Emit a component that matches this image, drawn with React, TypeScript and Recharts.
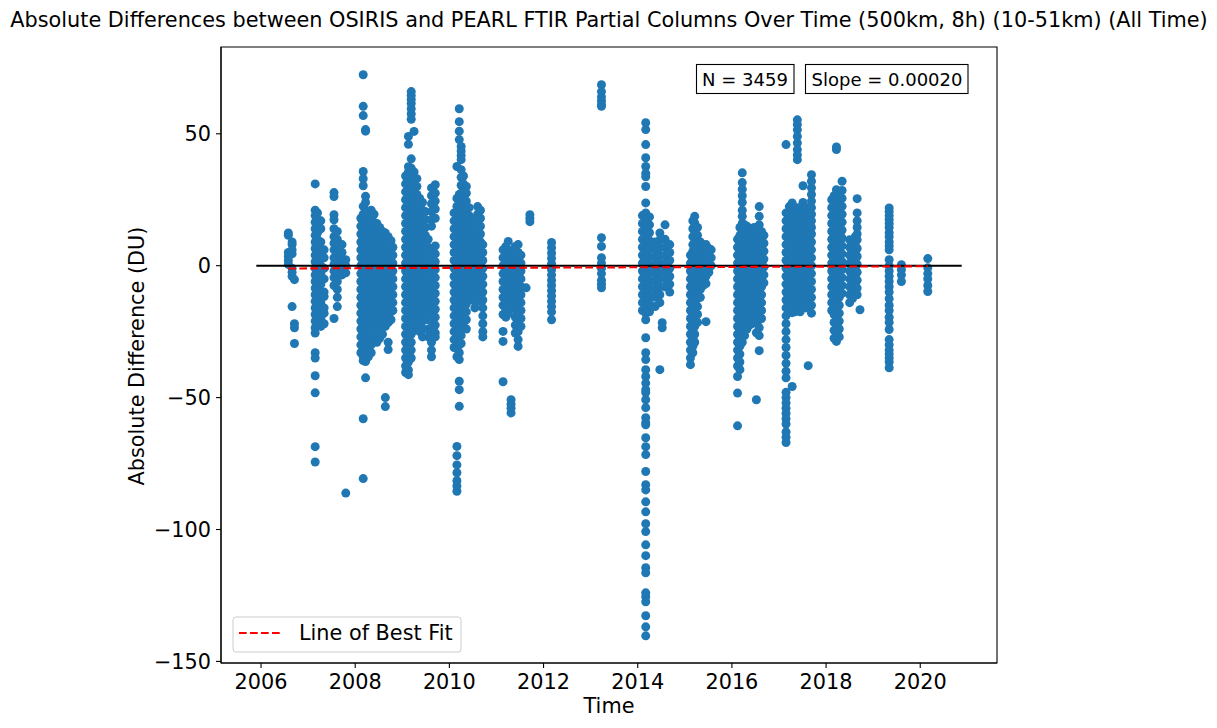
import React from 'react';
import { ScatterChart, Scatter, XAxis, YAxis, ReferenceArea } from 'recharts';

type Col = [number, number[]];

const g2006: Col[] = [
  [2006.58, [12.4, 11.5, 5, 3.5, 2, 0.5]],
  [2006.66, [9, 8, 6, 4.5, -1, -2.5, -4, -15.5]],
  [2006.71, [-5.3, -22, -23.5, -29.5]],
];
const g2007: Col[] = [
  [2007.15, [31, 21, 19, 16.5, 14, 11.5, 9, 6.5, 4, 1.5, -1, -3.5, -6, -8.5, -11, -13.5, -16, -18.5, -21, -23.5, -25.5, -33, -35, -41.7, -48.2, -68.6, -74.4]],
  [2007.2, [20, 17.5, 15, 12.5, 10, 7.5, 5, 2.5, 0, -2.5, -5, -7.5, -10, -12.5, -15, -17.5, -20, -22.5]],
  [2007.27, [17, 14, 9, 6, 3, 0, -3, -7, -10, -14, -18, -20, -23]],
  [2007.34, [6, 3, -1, -5, -10, -11.7, -16, -18, -22]],
  [2007.55, [27.7, 26.2, 19.3, 17.4, 14, 11, 8.5, 6, 3, 0.5, -2, -4.5, -7.5, -20]],
  [2007.62, [13, 10, 7.5, 5, 2.5, 0, -3, -6, -9, -12, -15.5]],
  [2007.72, [8, 5, 2, -1, -3.5]],
  [2007.8, [2.3, 0, -2.7, -86.2]],
];
const g2008: Col[] = [
  [2008.12, [18, 15, 12, 9, 6, 3, 0, -3, -6, -9, -12, -15, -18, -21, -24, -27, -30, -33]],
  [2008.17, [72.4, 60.4, 56.9, 35.7, 33, 30.3, 22.5, 19.5, 16.5, 13.5, 10.5, 7.5, 4.5, 1.5, -1.5, -4.5, -7.5, -10.5, -13.5, -16.5, -19.5, -22.5, -25.5, -28.5, -31.5, -34.5, -36, -58, -80.7]],
  [2008.22, [51.6, 51, 26.3, 24, 21, 18, 15, 12, 9, 6, 3, 0, -3, -6, -9, -12, -15, -18, -21, -24, -27, -30, -33, -36.3, -42.5]],
  [2008.28, [19.5, 16.5, 13.5, 10.5, 7.5, 4.5, 1.5, -1.5, -4.5, -7.5, -10.5, -13.5, -16.5, -19.5, -22.5, -25.5, -28.5, -31.5, -34.5]],
  [2008.34, [21, 18, 15, 12, 9, 6, 3, 0, -3, -6, -9, -12, -15, -18, -21, -24, -27, -30, -33]],
  [2008.4, [19.5, 16.5, 13.5, 10.5, 7.5, 4.5, 1.5, -1.5, -4.5, -7.5, -10.5, -13.5, -16.5, -19.5, -22.5, -25.5, -28.5]],
  [2008.46, [16, 13, 10, 7, 4, 1, -2, -5, -8, -11, -14, -17, -20, -23, -26, -29]],
  [2008.52, [14.5, 11.5, 8.5, 5.5, 2.5, -0.5, -3.5, -6.5, -9.5, -12.5, -15.5, -18.5, -21.5, -24.5, -27.5]],
  [2008.58, [13, 10, 7, 4, 1, -2, -5, -8, -11, -14, -17, -20, -23, -26]],
  [2008.64, [12.4, 9.5, 6.5, 3.5, 0.5, -2.5, -5.5, -8.5, -11.5, -14.5, -17.5, -20.5, -23, -50, -53.4]],
  [2008.7, [11, 8, 5, 2, -1, -4, -7, -10, -13, -16, -19, -21.6, -29, -31.8]],
  [2008.76, [9.5, 6.5, 3.5, 0.5, -2.5, -5.5, -8.5, -11.5, -14.5, -17.5, -20.5]],
  [2008.8, [7, 4, 1, -2, -5, -8, -11, -14, -17]],
];
const g2009: Col[] = [
  [2009.07, [34, 31, 28, 25, 22, 19, 16, 13, 10, 7, 4, 1, -2, -5, -8, -11, -14, -17, -20, -23, -26, -29, -32, -35, -38, -40.5]],
  [2009.13, [49, 46, 37.5, 35.5, 32.5, 29.5, 26.5, 23.5, 20.5, 17.5, 14.5, 11.5, 8.5, 5.5, 2.5, -0.5, -3.5, -6.5, -9.5, -12.5, -15.5, -18.5, -21.5, -24.5, -27.5, -30.5, -33.5, -36.5, -39.5, -41.3]],
  [2009.19, [66, 64.5, 63, 61.5, 59.5, 57.5, 55.5, 40.5, 37, 34, 31, 28, 25, 22, 19, 16, 13, 10, 7, 4, 1, -2, -5, -8, -11, -14, -17, -20, -23, -26, -29, -32, -35]],
  [2009.25, [50.9, 35.5, 32.5, 29.5, 26.5, 23.5, 20.5, 17.5, 14.5, 11.5, 8.5, 5.5, 2.5, -0.5, -3.5, -6.5, -9.5, -12.5, -15.5, -18.5, -21.5, -24.5]],
  [2009.31, [33, 30, 27, 24, 21, 18, 15, 12, 9, 6, 3, 0, -3, -6, -9, -12, -15, -18]],
  [2009.37, [25.5, 22.5, 19.5, 16.5, 13.5, 10.5, 7.5, 4.5, 1.5, -1.5, -4.5, -7.5, -10.5, -13.5, -16.5, -19.5, -22.5, -25]],
  [2009.43, [24, 21, 18, 15, 12, 9, 6, 3, 0, -3, -6, -9, -12, -15, -18, -21, -24, -27]],
  [2009.49, [20.5, 17.5, 14.5, 11.5, 8.5, 5.5, 2.5, -0.5, -3.5, -6.5, -9.5, -12.5, -15.5, -18]],
  [2009.55, [10, 7, 4, 1, -2, -5, -8, -11, -14, -17, -20.5, -24, -27]],
  [2009.62, [29.5, 26.5, 23.5, 20.5, 17.5, 15, 6, 3, 0, -3, -6, -9, -12, -15, -18, -21, -24, -27, -29, -32, -34.5]],
  [2009.7, [30.7, 27.5, 24.5, 21.5, 18, 7.5, 4.5, 1.5, -1.5, -4.5, -7.5, -10.5, -13.5, -16.5, -19.5, -22.5, -25.5, -27]],
];
const g2010: Col[] = [
  [2010.1, [20, 17, 14, 11, 8, 5, 2, -1, -4, -7, -10, -13, -16, -19, -22, -25, -28, -31]],
  [2010.16, [37.6, 25.5, 22.5, 19.5, 16.5, 13.5, 10.5, 7.5, 4.5, 1.5, -1.5, -4.5, -7.5, -10.5, -13.5, -16.5, -19.5, -22.5, -25.5, -28.5, -31.5, -34.5, -68.5, -72, -75.5, -78.5, -81.5, -83.5, -85.5]],
  [2010.21, [59.5, 54.6, 51, 47.8, 27, 24, 21, 18, 15, 12, 9, 6, 3, 0, -3, -6, -9, -12, -15, -18, -21, -24, -27, -30, -33, -35.6, -43.8, -47, -53.3]],
  [2010.25, [45.2, 43.5, 41.8, 40.2, 36.4, 33.5, 30.5, 27.5, 24.5, 21.5, 18.5, 15.5, 12.5, 9.5, 6.5, 3.5, 0.5, -2.5, -5.5, -8.5, -11.5, -14.5, -17.5, -20.5, -23.5, -26.5, -29.5]],
  [2010.3, [34, 31, 28, 25, 22, 19, 16, 13, 10, 7, 4, 1, -2, -5, -8, -11, -14, -17, -20, -23]],
  [2010.36, [30, 27.5, 24.5, 21.5, 18.5, 15.5, 12.5, 9.5, 6.5, 3.5, 0.5, -2.5, -5.5, -8.5, -11.5, -14.5, -17.5, -20.5, -24]],
  [2010.42, [22, 19, 16, 13, 10, 7, 4, 1, -2, -5, -8, -11, -12.9]],
  [2010.48, [17.5, 14.5, 11.5, 8.5, 5.5, 2.5, -0.5, -3.5, -6.5, -9.5, -12.5]],
  [2010.54, [16, 13, 10, 7, 4, 1, -2, -5, -8, -11, -13.6, -16]],
  [2010.6, [22.4, 19.5, 16.5, 13.5, 10.5, 7.5, 4.5, 1.5, -1.5, -4.5, -7.5, -10.5, -13.5]],
  [2010.66, [21, 18, 15, 12, 9, 6, 3, 0, -3, -6, -9]],
  [2010.71, [8, 5, 2, -1, -4, -7, -10, -13, -16, -19, -22, -25, -27]],
];
const g2011: Col[] = [
  [2011.14, [6, 3, 0, -3, -6, -9, -12, -15, -18.5, -24.9, -28.7, -44]],
  [2011.2, [7.3, 4.5, 1.5, -1.5, -4.5, -7.5, -10.5, -13.5, -16.5, -19.5]],
  [2011.25, [9.2, 6, 3, 0, -3, -6, -9, -12, -15, -18]],
  [2011.31, [5, 2, -1, -4, -7, -10, -13, -16, -50.8, -52.5, -54, -55.8]],
  [2011.4, [7.3, 4.5, 1.5, -1.5, -4.5, -7.5, -10.5, -13.5, -16.5, -19.5, -22.5, -25.5]],
  [2011.46, [8, 5, 2, -1, -4, -7, -10, -13, -16, -19, -22, -25, -28, -30.6]],
  [2011.52, [4, 1, -2, -5, -8, -11, -14, -17, -20, -23]],
  [2011.63, [-8.4]],
  [2011.71, [19.3, 18, 16.7]],
];
const g2012: Col[] = [
  [2012.17, [8.8, 6.8, 4.8, 2.8, 0.8, -0.3, -1.5, -3.5, -5.5, -7.5, -9.5, -11.5, -13.5, -15.5, -17.5, -20.5]],
];
const g2013: Col[] = [
  [2013.23, [68.6, 66, 64, 62.5, 61, 60.4, 10.6, 7.3, 3, 1, -1, -3, -5.5, -7, -8.4]],
];
const g2014: Col[] = [
  [2014.1, [19, 16, 13, 10, 7, 4, 1, -2, -5, -8, -11, -14, -17]],
  [2014.17, [54.2, 51.6, 45.9, 40.9, 37.6, 35, 33.7, 30, 23.8, 20, 17, 14, 11, 8, 5, 2.3, -0.5, -3, -6, -9, -12, -15, -18, -20.5, -27.3, -33, -35.6, -39.4, -42, -44.5, -47, -48.1, -50.8, -53.8, -57.6, -59.5, -60.3, -65.2, -68.6, -71.6, -78, -83, -85, -89.5, -93.3, -97.8, -100.8, -105.8, -109.9, -114.5, -116.4, -124, -125.5, -127.4, -132.7, -136.9, -140.3]],
  [2014.25, [18.5, 15.5, 12.5, 9.5, 6.5, 3.5, 0.5, -2.5, -5.5, -8.5, -11.5, -14.5, -17.5]],
  [2014.37, [9, 6, 3, 0, -3, -6, -9, -12, -15.5]],
  [2014.47, [12.4, 9.8, 7, 4, 1, -2, -5, -8, -11, -14, -39.4]],
  [2014.52, [-21.6, -23.5]],
  [2014.58, [15.5, 10, 7, 4, 1, -2, -5, -8]],
  [2014.68, [8, 5, 2, -1, -4, -7, -10]],
];
const g2015: Col[] = [
  [2015.12, [4, 1, -2, -5, -8, -11, -14, -17, -20, -23, -26, -29, -32, -35, -37.5]],
  [2015.17, [17, 14, 11, 8, 5.5, 2.5, -0.5, -3.5, -6.5, -9.5, -12.5, -15.5, -18.5, -21.5, -24.5, -27.5, -30.5, -33]],
  [2015.21, [18.7, 16.2, 13, 10, 7, 4, 1, -2, -5, -8, -11, -14, -17, -20, -23, -26, -29]],
  [2015.27, [14.5, 11.5, 8.5, 5.5, 2.5, -0.5, -3.5, -6.5, -9.5, -12.5, -15.5, -18.5, -21.5]],
  [2015.33, [9, 6, 3, 0, -3, -6, -9, -12]],
  [2015.39, [7.5, 4.5, 1.5, -1.5, -4.5, -7.5]],
  [2015.45, [8, 5, 2, -1, -4, -6.8, -21.2]],
  [2015.51, [6.5, 3.5, 0.5, -2.5]],
  [2015.56, [6, 3, 0]],
];
const g2016: Col[] = [
  [2016.12, [10, 7, 4, 1, -2, -5, -8, -11, -14, -17, -20, -23, -26, -29, -32, -35, -38, -42, -48.3, -60.7]],
  [2016.17, [14.5, 11.5, 8.5, 5.5, 2.5, -0.5, -3.5, -6.5, -9.5, -12.5, -15.5, -18.5, -21.5, -24.5, -27.5, -30.5, -33.5, -36.5, -39.4]],
  [2016.22, [35.2, 31.5, 29, 26.5, 24, 21, 18.7, 16, 13, 10, 7, 4, 1, -2, -5, -8, -11, -14, -17, -20, -23, -26, -29]],
  [2016.27, [15.5, 12.5, 9.5, 6.5, 3.5, 0.5, -2.5, -5.5, -8.5, -11.5, -14.5, -17.5, -20.5, -23.5, -26.5]],
  [2016.32, [15, 12, 9, 6, 3, 0, -3, -6, -9, -12, -15, -18, -21, -24]],
  [2016.37, [13.5, 10.5, 7.5, 4.5, 1.5, -1.5, -4.5, -7.5, -10.5, -13.5, -16.5, -19.5, -22.5]],
  [2016.42, [14, 11, 8, 5, 2, -1, -4, -7, -10, -13, -16, -19, -22]],
  [2016.47, [14.5, 11.5, 8.5, 5.5, 2.5, -0.5, -3.5, -6.5, -9.5, -12.5, -15.5, -18.5, -21.5]],
  [2016.52, [12, 9, 6, 3, 0, -3, -6, -9, -12, -15, -18, -21, -25.4, -50.8]],
  [2016.58, [22.4, 18.7, 15.5, 12.5, 9.5, 6.5, 3.5, 0.5, -2.5, -5.5, -8.5, -11.5, -14.5, -17.5, -20.5, -23.5, -26.5, -32.2]],
  [2016.63, [13, 10, 7, 4, 1, -2, -5, -8, -11, -14, -17, -20]],
  [2016.68, [11.5, 8.5, 5.5, 2.5, -0.5, -3.5, -6.5]],
];
const g2017: Col[] = [
  [2017.15, [45.9, 20, 17, 14, 11, 8, 5, 2, -1, -4, -7, -10, -13, -16, -19, -22, -25, -28, -31, -34, -37, -40, -42.5, -48, -50, -52, -54, -56, -58, -60, -63, -65, -67]],
  [2017.22, [22.4, 19.5, 16.5, 13.5, 10.5, 7.5, 4.5, 1.5, -1.5, -4.5, -7.5, -10.5, -13.5]],
  [2017.28, [23.8, 21, 18, 15, 12, 9, 6, 3, 0, -3, -6, -9, -12, -15, -17.8, -45.8]],
  [2017.34, [21.5, 18.5, 15.5, 12.5, 9.5, 6.5, 3.5, 0.5, -2.5, -5.5, -8.5, -11.5, -14.5, -17.5]],
  [2017.39, [55.3, 53.5, 51.5, 49, 46.5, 44, 42, 40.2, 22, 19, 16, 13, 10, 7, 4, 1, -2, -5, -8, -11, -14, -17]],
  [2017.45, [21.5, 18.5, 15.5, 12.5, 9.5, 6.5, 3.5, 0.5, -2.5, -5.5, -8.5, -11.5, -14.5, -17.5]],
  [2017.51, [30.3, 24, 21, 18, 15, 12, 9, 6, 3, 0, -3, -6, -9, -12, -15]],
  [2017.57, [21.5, 18.5, 15.5, 12.5, 9.5, 6.5, 3.5, 0.5, -2.5, -5.5, -8.5, -11.5, -14.5, -16]],
  [2017.62, [22, 19, 16, 13, 10, 7, 4, 1, -2, -5, -8, -11, -14, -37.9]],
  [2017.69, [34.5, 32, 29.5, 27, 24.5, 22, 19.5, 17, 14.5, 12, 9, 6, 3, 0, -3, -6, -9, -12, -15, -18]],
];
const g2018: Col[] = [
  [2018.12, [25, 22, 19, 16, 13, 10, 7, 4, 1, -2, -5, -8, -11, -14, -17]],
  [2018.17, [26.5, 23.5, 20.5, 17.5, 14.5, 11.5, 8.5, 5.5, 2.5, -0.5, -3.5, -6.5, -9.5, -12.5, -15.5, -18.5, -21.5, -24.5, -27.5]],
  [2018.22, [44, 45, 28.8, 25.5, 22.5, 19.5, 16.5, 13.5, 10.5, 7.5, 4.5, 1.5, -1.5, -4.5, -7.5, -10.5, -13.5, -16.5, -19.5, -22.5, -25.5, -28.7]],
  [2018.28, [27, 24, 21, 18, 15, 12, 9, 6, 3, 0, -3, -6, -9, -12, -15, -18, -21, -24, -27]],
  [2018.34, [32, 28.5, 25.5, 22.5, 19.5, 16.5, 13.5, 10.5, 7.5, 4.5, 1.5, -1.5, -4.5, -7.5, -10.5]],
  [2018.5, [9.8, 7, 4, 1, -2, -5, -8, -11, -14]],
  [2018.56, [8.5, 5.5, 2.5, -0.5, -3.5, -6.5, -9.5, -12.5]],
  [2018.62, [11, 8, 5, 2, -1, -4, -7, -10]],
  [2018.66, [25.4, 20, 17, 14.5, 12, 9.8, 6.5, 3.5, 0.5, -2.5, -5.5, -8.5, -11]],
  [2018.72, [-16.7]],
];
const g2019: Col[] = [
  [2019.34, [21.9, 20.5, 19, 17.5, 16, 14.5, 12.5, 11, 9, 7.5, 6, 2.3, 0, -2, -4, -6, -8, -10, -12.5, -15, -17, -19.5, -21.5, -24.2, -28, -30, -32, -33.5, -35, -36.5, -38.7]],
  [2019.6, [0.4, -1.5, -3.5, -6]],
];
const g2020: Col[] = [
  [2020.16, [2.7, -0.8, -3, -5, -7.5, -9.8]],
];

const groups = [g2006, g2007, g2008, g2009, g2010, g2011, g2012, g2013, g2014, g2015, g2016, g2017, g2018, g2019, g2020];

const xTicks = [2006, 2008, 2010, 2012, 2014, 2016, 2018, 2020];
const yTicks = [-150, -100, -50, 0, 50];
const xDomain: [number, number] = [2005.15, 2021.63];
const yDomain: [number, number] = [-150.6, 82.9];
const zeroLine = [{ x: 2005.9, y: 0 }, { x: 2020.88, y: 0 }];
const fitLine = [{ x: 2006.58, y: -1.05 }, { x: 2020.16, y: -0.22 }];

const points = groups.flatMap((g) => g.flatMap(([t, vs]) => vs.map((v) => ({ x: t, y: v }))));

const FONT = 'DejaVu Sans, sans-serif';
const FS = 20.8;
const fmt = (v: number) => (v < 0 ? '\u2212' + Math.abs(v) : String(v));

const Dot = (p: any) => <circle cx={p.cx} cy={p.cy} r={4.5} fill="#1f77b4" />;
const NoDot = () => <g />;

export default function App() {
  return (
    <div style={{ position: 'relative', width: 1217, height: 728, background: '#fff' }}>
      <style>{`body{margin:0;}`}</style>
      <ScatterChart width={1217} height={728} margin={{ top: 47, right: 220, bottom: 35, left: 161 }}>
        <XAxis
          type="number"
          dataKey="x"
          domain={xDomain}
          allowDataOverflow
          ticks={xTicks}
          interval={0}
          height={30}
          tickSize={5}
          tickMargin={6}
          stroke="#000"
          axisLine={{ stroke: '#000', strokeWidth: 1.1 }}
          tickLine={{ stroke: '#000', strokeWidth: 1.1 }}
          tick={{ fill: '#000', fontSize: FS, fontFamily: FONT }}
        />
        <YAxis
          type="number"
          dataKey="y"
          domain={yDomain}
          allowDataOverflow
          ticks={yTicks}
          interval={0}
          width={60}
          tickSize={5}
          tickMargin={5}
          tickFormatter={fmt}
          stroke="#000"
          axisLine={{ stroke: '#000', strokeWidth: 1.1 }}
          tickLine={{ stroke: '#000', strokeWidth: 1.1 }}
          tick={{ fill: '#000', fontSize: FS, fontFamily: FONT }}
        />
        <Scatter data={points} shape={Dot} isAnimationActive={false} />
        <Scatter data={zeroLine} shape={NoDot} line={{ stroke: '#000', strokeWidth: 2.1 }} isAnimationActive={false} />
        <Scatter data={fitLine} shape={NoDot} line={{ stroke: '#ff0000', strokeWidth: 2.1, strokeDasharray: '7.7 3.3' }} isAnimationActive={false} />
        <ReferenceArea x1={xDomain[0]} x2={xDomain[1]} y1={yDomain[0]} y2={yDomain[1]} fill="none" fillOpacity={0} stroke="#000" strokeWidth={1.1} ifOverflow="visible" />
      </ScatterChart>
      <svg width={1217} height={728} style={{ position: 'absolute', left: 0, top: 0, pointerEvents: 'none' }} fontFamily={FONT}>
        <text x={609} y={20} textAnchor="middle" dominantBaseline="central" fontSize={FS} fill="#000">
          Absolute Differences between OSIRIS and PEARL FTIR Partial Columns Over Time (500km, 8h) (10-51km) (All Time)
        </text>
        <text x={609} y={706} textAnchor="middle" dominantBaseline="central" fontSize={FS} fill="#000">Time</text>
        <text x={137} y={356} textAnchor="middle" dominantBaseline="central" fontSize={FS} fill="#000" transform="rotate(-90 137 356)">
          Absolute Difference (DU)
        </text>
        <rect x={696.5} y={64.5} width={97.5} height={29} fill="#fff" stroke="#000" strokeWidth={1.1} />
        <text x={745} y={79.5} textAnchor="middle" dominantBaseline="central" fontSize={18} fill="#000">N = 3459</text>
        <rect x={805.5} y={64.5} width={162.5} height={29} fill="#fff" stroke="#000" strokeWidth={1.1} />
        <text x={887} y={79.5} textAnchor="middle" dominantBaseline="central" fontSize={18} fill="#000">Slope = 0.00020</text>
        <rect x={233} y={617} width={228} height={35} rx={3} fill="#fff" fillOpacity={0.8} stroke="#cccccc" strokeWidth={1} />
        <line x1={239} y1={633} x2={282} y2={633} stroke="#ff0000" strokeWidth={2.1} strokeDasharray="7.7 3.3" />
        <text x={299} y={633} dominantBaseline="central" fontSize={FS} fill="#000">Line of Best Fit</text>
      </svg>
    </div>
  );
}
